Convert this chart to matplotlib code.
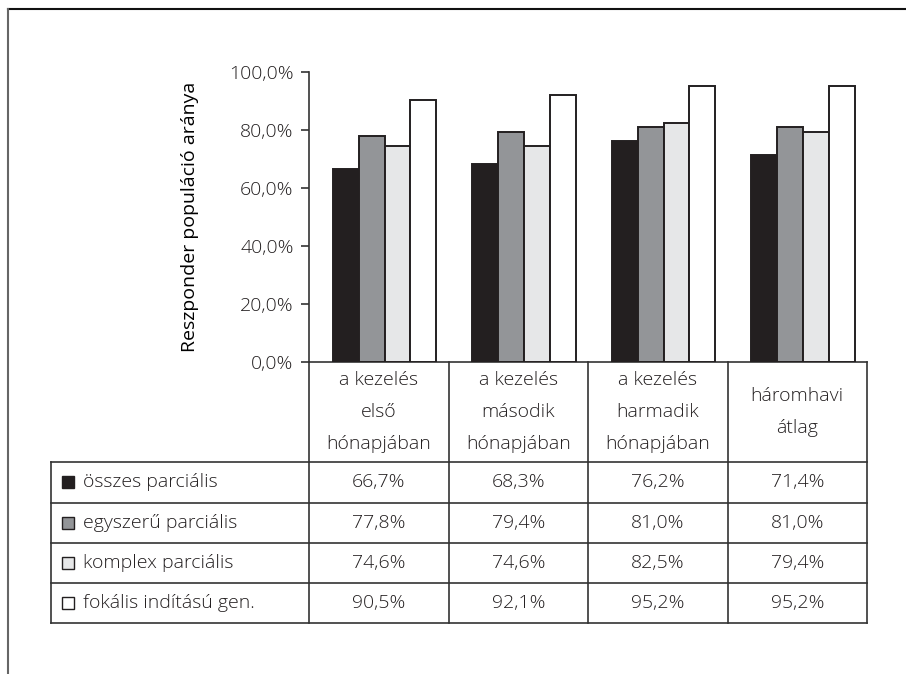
import numpy as np
import matplotlib
matplotlib.use('Agg')
from matplotlib import pyplot as plt
from matplotlib.lines import Line2D

plt.rcParams['font.family'] = ['Open Sans', 'DejaVu Sans']
plt.rcParams['font.weight'] = 'light'
plt.rcParams['font.size'] = 14
plt.rcParams['text.color'] = '#231f20'

# =============================================================================
# Data
# =============================================================================
periods = ['a kezelés\nelső\nhónapjában',
           'a kezelés\nmásodik\nhónapjában',
           'a kezelés\nharmadik\nhónapjában',
           'háromhavi\nátlag']
groups = ['összes parciális', 'egyszerű parciális',
          'komplex parciális', 'fokális indítású gen.']
osszes = [66.7, 68.3, 76.2, 71.4]
egyszeru = [77.8, 79.4, 81.0, 81.0]
komplex = [74.6, 74.6, 82.5, 79.4]
fokalis = [90.5, 92.1, 95.2, 95.2]
series = [osszes, egyszeru, komplex, fokalis]
colors = ['#231f20', '#939598', '#e6e7e8', '#ffffff']
ticks = [0, 20, 40, 60, 80, 100]

def pct(v):
    return ('%.1f%%' % v).replace('.', ',')

W, H = 906, 674
fs = 14
fig = plt.figure(figsize=(W / 100, H / 100), dpi=100)

# =============================================================================
# Bar chart
# =============================================================================
ax = fig.add_axes([309 / W, (H - 362) / H, 558 / W, 290 / H])
x = np.arange(len(periods))
width = 0.185
for j, vals in enumerate(series):
    ax.bar(x + 0.042 + (j - 1.5) * width, vals, width,
           color=colors[j], edgecolor='#231f20', linewidth=1.4, zorder=3)

ax.set_xlim(-0.5, len(periods) - 0.5)
ax.set_ylim(0, 100)
ax.set_yticks(ticks)
ax.set_yticklabels([pct(t) for t in ticks])
ax.set_xticks([])
ax.tick_params(axis='y', direction='out', length=6, width=1.2,
               color='#333333', pad=5, labelsize=fs, labelcolor='#231f20')
for s in ['top', 'right']:
    ax.spines[s].set_visible(False)
for s in ['left', 'bottom']:
    ax.spines[s].set_color('#333333')
    ax.spines[s].set_linewidth(1.2)
ax.set_ylabel('Reszponder populáció aránya', fontsize=fs, va='center')
ax.yaxis.set_label_coords(-0.213, 0.5)

# =============================================================================
# Data table below the bars
# =============================================================================
tab = fig.add_axes([51 / W, (H - 623) / H, 816 / W, 261 / H])
tab.set_xlim(-2.35, len(periods) - 0.5)
tab.set_ylim(2.5 + len(groups), 0)
tab.axis('off')

lc = '#333333'
for xv in np.arange(len(periods) + 1) - 0.5:
    tab.plot([xv, xv], [0, 2.5 + len(groups)], color=lc, lw=1.2, clip_on=False)
tab.plot([-2.35, -2.35], [2.5, 2.5 + len(groups)], color=lc, lw=1.2, clip_on=False)
for yv in 2.5 + np.arange(len(groups) + 1):
    tab.plot([-2.35, len(periods) - 0.5], [yv, yv], color=lc, lw=1.2, clip_on=False)

for i, lab in enumerate(periods):
    tab.text(i, 1.25, lab, ha='center', va='center', fontsize=fs,
             linespacing=2.0)

for j, name in enumerate(groups):
    yc = 3.0 + j
    tab.plot(-2.23, yc, marker='s', ms=8.5, mfc=colors[j], mec='#231f20',
             mew=1.0, clip_on=False)
    tab.text(-2.12, yc, name, ha='left', va='center', fontsize=fs)
    for i, v in enumerate(series[j]):
        tab.text(i, yc, pct(v), ha='center', va='center', fontsize=fs)

# page frame lines
fig.add_artist(Line2D([8 / W, 1], [1 - 9 / H, 1 - 9 / H], color='#111111', lw=1.5))
fig.add_artist(Line2D([8 / W, 8 / W], [0, 1 - 9 / H], color='#666666', lw=1.5))

plt.savefig('out.png', dpi=100, facecolor='white')
